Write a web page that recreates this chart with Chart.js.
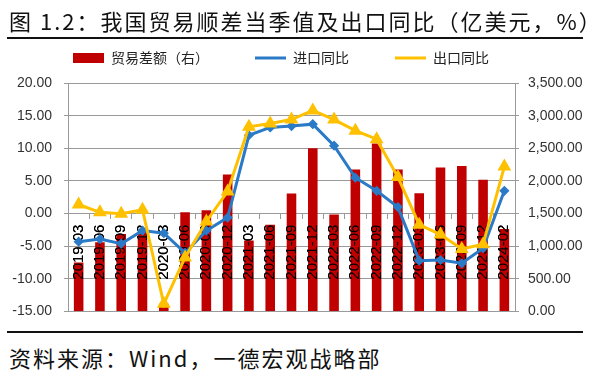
<!DOCTYPE html>
<html>
<head>
<meta charset="utf-8">
<script src="https://cdn.jsdelivr.net/npm/chart.js@4.4.1/dist/chart.umd.min.js"></script>
<style>
  html, body { margin: 0; padding: 0; background: #fff; }
  #wrap { position: relative; width: 610px; height: 378px; overflow: hidden; }
  #myChart { position: absolute; left: 0; top: 0; }
  .title { position: absolute; left: 9px; top: 5px; font: 22px 'Noto Sans CJK SC'; line-height: 30px;
           letter-spacing: 2px; color: #111; white-space: nowrap; }
  .rule { position: absolute; left: 7px; width: 576px; height: 2px; background: #111; }
  .source { position: absolute; left: 9px; top: 342px; font: 22px 'Noto Sans CJK SC'; line-height: 30px;
            letter-spacing: 2px; color: #111; white-space: nowrap; }
</style>
</head>
<body>
<div id="wrap">
  <canvas id="myChart" width="610" height="332"></canvas>
  <div class="title">图 1.2：我国贸易顺差当季值及出口同比（亿美元，%）</div>
  <div class="rule" style="top:37px"></div>
  <div class="rule" style="top:331px"></div>
  <div class="source">资料来源：Wind，一德宏观战略部</div>
</div>
<script>
const categories = [
  '2019-03', '2019-06', '2019-09', '2019-12',
  '2020-03', '2020-06', '2020-09', '2020-12',
  '2021-03', '2021-06', '2021-09', '2021-12',
  '2022-03', '2022-06', '2022-09', '2022-12',
  '2023-03', '2023-06', '2023-09', '2023-12',
  '2024-02'
];
// 贸易差额 (亿美元, right axis)
const tradeBalance = [750, 1060, 1190, 1220, 120, 1520, 1550, 2100, 1090, 1330, 1810, 2500,
                      1485, 2174, 2575, 2174, 1813, 2205, 2230, 2020, 1264];
// 进口同比 (%)
const importYoY = [-4.3, -3.9, -4.6, -2.6, -3.0, -6.0, -2.6, -0.6, 12.0, 13.2, 13.4, 13.7,
                   10.4, 5.5, 3.5, 1.0, -7.2, -7.1, -7.6, -5.3, 3.5];
// 出口同比 (%)
const exportYoY = [1.4, 0.2, 0.0, 0.6, -13.8, -6.7, -1.2, 3.4, 13.3, 13.8, 14.4, 15.8,
                   14.4, 12.7, 11.4, 5.6, -1.7, -3.2, -5.4, -4.7, 7.2];
const leftTicks = { min: -15, max: 20, step: 5 };
const rightTicks = { min: 0, max: 3500, step: 500 };

const gridColor = '#9a9a9a';
const tickFont = { family: "'Liberation Sans', Arial, sans-serif", size: 14 };

// x labels sit on the zero line: redraw them over the bars, under the lines
const labelsOverBars = {
  id: 'labelsOverBars',
  afterDatasetDraw(chart, args) {
    if (args.index === 0) chart.scales.x.drawLabels(chart.chartArea);
  }
};

// legend starts a bit right of the canvas edge and closer to the title, like the original
const legendShift = {
  id: 'legendShift',
  afterLayout(chart) {
    chart.legend.left += 27;
    chart.legend.top -= 8;
    chart.legend.bottom -= 8;
  }
};

const ctx = document.getElementById('myChart');

new Chart(ctx, {
  type: 'bar',
  data: {
    labels: categories,
    datasets: [{
      label: '贸易差额（右）',
      data: tradeBalance,
      yAxisID: 'y1',
      backgroundColor: '#C00000',
      borderWidth: 0,
      barPercentage: 0.45,
      categoryPercentage: 1,
      order: 3
    }, {
      type: 'line',
      label: '进口同比',
      data: importYoY,
      yAxisID: 'y',
      borderColor: '#2A7AC7',
      backgroundColor: '#2A7AC7',
      borderWidth: 3,
      tension: 0,
      pointStyle: 'rectRot',
      pointRadius: 3,
      order: 2
    }, {
      type: 'line',
      label: '出口同比',
      data: exportYoY,
      yAxisID: 'y',
      borderColor: '#FFC000',
      backgroundColor: '#FFC000',
      borderWidth: 3,
      tension: 0,
      pointStyle: 'triangle',
      pointRadius: 5,
      order: 1
    }]
  },
  options: {
    responsive: false,
    animation: false,
    layout: { padding: { left: 0, right: 0, top: 13, bottom: 10 } },
    scales: {
      x: {
        position: { y: 0 },
        grid: { drawOnChartArea: false, drawTicks: true, tickLength: 5, color: gridColor },
        border: { color: gridColor },
        ticks: {
          minRotation: 90, maxRotation: 90, autoSkip: false, padding: 6, color: '#000',
          font: { family: "'Liberation Sans', Arial, sans-serif", size: 15 }
        }
      },
      y: {
        position: 'left',
        min: leftTicks.min,
        max: leftTicks.max,
        ticks: {
          stepSize: leftTicks.step,
          padding: 12,
          color: '#333',
          font: tickFont,
          callback: (v) => v.toFixed(2)
        },
        grid: { color: gridColor, tickLength: 4 },
        border: { color: gridColor },
        afterFit: (scale) => { scale.width = 68; }
      },
      y1: {
        position: 'right',
        min: rightTicks.min,
        max: rightTicks.max,
        ticks: {
          stepSize: rightTicks.step,
          padding: 9,
          color: '#333',
          font: tickFont,
          callback: (v) => v.toLocaleString('en-US', { minimumFractionDigits: 2, maximumFractionDigits: 2 })
        },
        grid: { drawOnChartArea: false, color: gridColor, tickLength: 4 },
        border: { color: gridColor },
        afterFit: (scale) => { scale.width = 95; }
      }
    },
    plugins: {
      tooltip: { enabled: false },
      legend: {
        position: 'top',
        align: 'start',
        labels: {
          usePointStyle: true,
          pointStyleWidth: 31,
          boxHeight: 10,
          padding: 46,
          color: '#222',
          font: { family: "'Noto Sans CJK SC'", size: 14 },
          sort: (a, b) => a.datasetIndex - b.datasetIndex,
          generateLabels(chart) {
            const items = Chart.defaults.plugins.legend.labels.generateLabels(chart);
            items.forEach((it) => {
              const ds = chart.data.datasets[it.datasetIndex];
              if (it.datasetIndex === 0) {
                it.pointStyle = 'rect';
              } else {
                it.pointStyle = 'line';
                it.strokeStyle = ds.borderColor;
                it.lineWidth = 3;
              }
            });
            return items;
          }
        }
      }
    }
  },
  plugins: [labelsOverBars, legendShift]
});
</script>
</body>
</html>
